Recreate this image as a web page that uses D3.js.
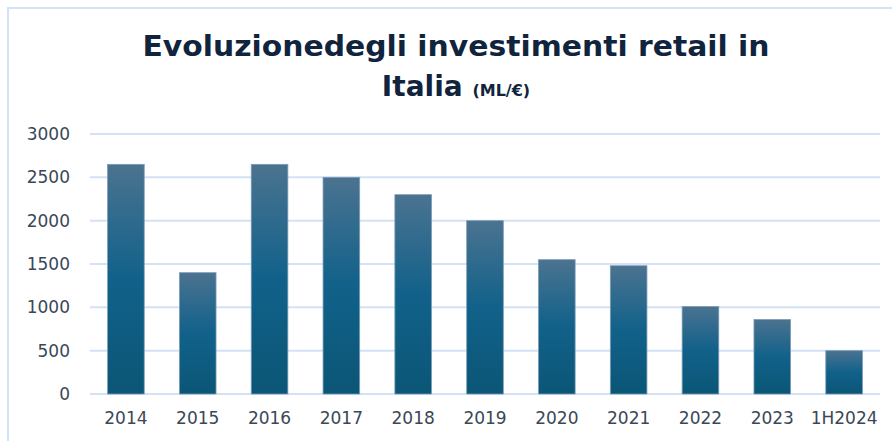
<!DOCTYPE html>
<html>
<head>
<meta charset="utf-8">
<script src="https://cdn.jsdelivr.net/npm/d3@7"></script>
<style>
  html, body { margin: 0; padding: 0; background: #fff; }
</style>
</head>
<body>
<div id="chart"></div>
<script>
'use strict';

// data
const categories = ['2014', '2015', '2016', '2017', '2018', '2019', '2020', '2021', '2022', '2023', '1H2024'];
const values = [2650, 1400, 2650, 2500, 2300, 2000, 1550, 1480, 1010, 860, 500];
const y_ticks = [0, 500, 1000, 1500, 2000, 2500, 3000];

// env
const width = 892, height = 441;
const margin = {top: 134, right: 12, bottom: 47, left: 90};
const text_color = '#3a4757';
const title_color = '#10243e';
const grid_color = '#d3e2f4';
const tick_font = 'DejaVu Sans, Verdana, sans-serif';

const svg = d3.select('#chart').append('svg')
    .attr('width', width)
    .attr('height', height);

// gradient for bars
const defs = svg.append('defs');
const grad = defs.append('linearGradient')
    .attr('id', 'bar_grad')
    .attr('x1', 0).attr('y1', 0).attr('x2', 0).attr('y2', 1);
grad.append('stop').attr('offset', '0%').attr('stop-color', '#4b7390');
grad.append('stop').attr('offset', '50%').attr('stop-color', '#11618a');
grad.append('stop').attr('offset', '100%').attr('stop-color', '#0b5676');

// frame
svg.append('rect')
    .attr('x', 8).attr('y', 8)
    .attr('width', width)
    .attr('height', height)
    .attr('fill', 'none')
    .attr('stroke', grid_color)
    .attr('stroke-width', 2);

// scales
const x = d3.scaleBand()
    .domain(categories)
    .range([margin.left, width - margin.right])
    .paddingInner(0.49)
    .paddingOuter(0.245);

const y = d3.scaleLinear()
    .domain([0, 3000])
    .range([height - margin.bottom, margin.top]);

// grid lines
svg.append('g')
    .selectAll('line')
    .data(y_ticks)
    .enter()
    .append('line')
    .attr('x1', margin.left)
    .attr('x2', width - margin.right)
    .attr('y1', d => y(d))
    .attr('y2', d => y(d))
    .attr('stroke', grid_color)
    .attr('stroke-width', 2);

// y axis
const y_axis = svg.append('g')
    .attr('transform', `translate(${margin.left - 20},0)`)
    .call(d3.axisLeft(y).tickValues(y_ticks).tickFormat(d3.format('d')).tickSize(0).tickPadding(0));
y_axis.select('.domain').remove();
y_axis.selectAll('text')
    .attr('fill', text_color)
    .attr('font-family', tick_font)
    .attr('font-size', '17px');

// x axis
const x_axis = svg.append('g')
    .attr('transform', `translate(0,${height - margin.bottom})`)
    .call(d3.axisBottom(x).tickSize(0).tickPadding(18));
x_axis.select('.domain').remove();
x_axis.selectAll('text')
    .attr('fill', text_color)
    .attr('font-family', tick_font)
    .attr('font-size', '17px');

// bars
svg.append('g')
    .selectAll('rect')
    .data(values)
    .enter()
    .append('rect')
    .attr('x', (d, i) => x(categories[i]))
    .attr('y', d => y(d))
    .attr('width', x.bandwidth())
    .attr('height', d => y(0) - y(d))
    .attr('fill', 'url(#bar_grad)')
    .attr('stroke', '#7b9cb8')
    .attr('stroke-width', 0.8);

// title
const title_g = svg.append('g')
    .attr('font-family', 'DejaVu Sans, Verdana, sans-serif')
    .attr('font-weight', 'bold')
    .attr('fill', title_color)
    .attr('text-anchor', 'middle');

title_g.append('text')
    .attr('x', 456)
    .attr('y', 56)
    .attr('font-size', '29px')
    .attr('textLength', 627)
    .attr('lengthAdjust', 'spacingAndGlyphs')
    .text('Evoluzionedegli investimenti retail in');

const line2 = title_g.append('text')
    .attr('x', 456)
    .attr('y', 96)
    .attr('font-size', '28px');
line2.append('tspan').text('Italia ');
line2.append('tspan').attr('font-size', '16px').text('(ML/€)');
</script>
</body>
</html>
